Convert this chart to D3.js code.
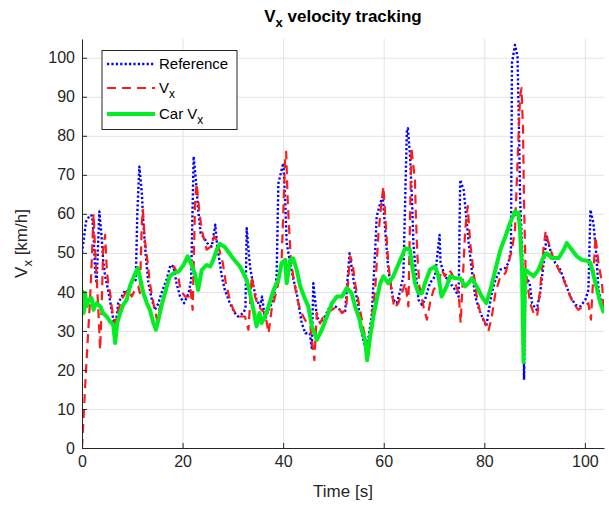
<!DOCTYPE html>
<html>
<head>
<meta charset="utf-8">
<script src="https://cdn.jsdelivr.net/npm/d3@7"></script>
<style>
  body { margin: 0; background: #fff; }
  text { font-family: "Liberation Sans", Arial, Helvetica, sans-serif; }
</style>
</head>
<body>
<div id="vis"></div>
<script>
// Vx velocity tracking

const X_TICKS = [0, 20, 40, 60, 80, 100];
const Y_TICKS = [0, 10, 20, 30, 40, 50, 60, 70, 80, 90, 100];

// Reference (blue dotted)
const refT = [0, 0.3, 0.8, 1.6, 2.0, 2.3, 2.6, 2.9, 3.45, 3.9, 4.2, 4.6, 5.2, 5.8, 6.6, 7.2, 7.9, 8.6, 9.2, 9.9,
  10.7, 11.0, 11.4, 11.9, 12.2, 12.7, 13.2, 13.9, 14.5, 15.2, 15.8, 16.8, 17.6, 18.2, 18.8, 19.5, 20.3, 21.2, 21.7, 22.2,
  22.7, 23.1, 23.6, 24.3, 24.9, 25.8, 26.5, 26.9, 27.8, 28.4, 29.4, 30.4, 31.0, 32.1, 32.5, 32.75, 33.4, 34.1, 34.7, 35.4,
  35.8, 36.4, 37.1, 38.1, 38.7, 39.05, 39.7, 40.05, 40.4, 40.7, 41.4, 41.9, 42.7, 43.7, 44.4, 45.3, 45.7, 46.0, 46.7, 47.4,
  48.3, 49.3, 50.3, 51.3, 52.3, 53.2, 53.6, 54.3, 55.0, 55.6, 56.3, 57.0, 57.6, 58.3, 58.6, 59.3, 59.8, 60.3, 60.9, 61.9,
  62.6, 63.3, 63.9, 64.6, 64.8, 65.2, 65.6, 65.9, 66.4, 66.9, 67.6, 68.2, 69.2, 70.2, 71.1, 71.3, 72.2, 73.2, 74.2, 74.9,
  75.2, 75.9, 76.4, 76.9, 77.5, 78.2, 79.0, 79.8, 80.4, 80.8, 81.5, 82.2, 83.2, 84.1, 84.8, 85.3, 85.5, 86.1, 86.6, 86.9,
  87.1, 87.5, 87.7, 87.9, 88.2, 89.0, 89.5, 89.9, 90.4, 91.1, 91.8, 92.4, 93.1, 94.1, 95.1, 96.1, 97.1, 98.1, 99.1, 100.1,
  100.7, 101.1, 101.7, 102.3, 102.7, 103.4, 103.8];
const refV = [50, 53, 58, 59.7, 59.5, 55, 45.6, 42.2, 60.6, 54.2, 48.2, 44, 40.5, 36, 30.3, 37.1, 38.8, 40.5, 39.7, 42.3,
  43.1, 60, 72.1, 65.3, 57.6, 49.1, 42.2, 38, 35.4, 37.1, 39.7, 43.1, 46.9, 46.5, 42.2, 38.8, 37.1, 39.7, 43.1, 74.7,
  67.8, 61, 55, 53.8, 52.5, 51.6, 57.2, 51.6, 44, 40.5, 37.1, 34.6, 33.7, 34.6, 35.8, 56.3, 46.5, 41.4, 38, 36.3,
  38.8, 32.9, 35.4, 38, 44, 67.8, 71.3, 73, 63.6, 52.5, 47.4, 44, 39.7, 32, 29.4, 29.4, 25.6, 42.2, 33.7, 32,
  33.7, 36.3, 36.3, 35.4, 34.6, 49.9, 46.5, 40.5, 36.3, 29.4, 26, 28.6, 33.7, 50.8, 59.3, 62.7, 64.4, 55.9, 45.7, 38,
  37.1, 40.5, 44, 81.5, 81.9, 75.5, 64.4, 52.5, 44.8, 38, 36.7, 38, 42.3, 44, 54.6, 47.4, 44, 42.3, 40.5, 38.8,
  68.7, 66.1, 59.3, 52.5, 45.7, 38.8, 35.4, 32.9, 31.2, 34.6, 39.7, 43.1, 45.7, 46.1, 47.4, 50.8, 98.6, 103.3, 100.3, 81.5,
  64.4, 51.6, 40.5, 17.5, 44, 42.3, 37.1, 36.3, 35.4, 39.7, 47.4, 54.2, 50.8, 47.4, 45.7, 42.3, 38.8, 36.7, 36.3, 38,
  40.5, 61, 57.6, 49.1, 40.5, 37.1, 35.4];

// Vx (red dashed)
const vxT = [0, 0.4, 0.8, 1.2, 1.6, 2.0, 2.3, 2.6, 2.9, 3.25, 3.6, 3.9, 4.2, 4.6, 4.9, 5.2, 5.6, 5.9, 6.2, 6.6,
  7.2, 7.9, 8.6, 9.2, 9.9, 10.5, 11.2, 11.5, 11.9, 12.1, 12.5, 13.0, 13.5, 14.2, 14.9, 15.5, 16.2, 16.8, 17.5, 18.3,
  19.0, 19.6, 20.5, 21.2, 21.6, 22.0, 22.5, 22.8, 23.3, 23.8, 24.3, 24.8, 25.6, 26.3, 26.8, 27.3, 28.0, 28.6, 29.4, 30.1,
  30.8, 31.4, 32.4, 33.1, 33.75, 34.4, 35.1, 35.7, 36.4, 37.1, 37.7, 38.4, 39.05, 39.7, 40.4, 40.6, 40.9, 41.2, 41.5, 42.0,
  42.7, 43.4, 44.0, 44.7, 45.4, 46.2, 46.7, 47.35, 48.0, 48.7, 49.7, 50.7, 51.7, 52.5, 53.3, 53.8, 54.3, 54.8, 55.3, 56.0,
  56.6, 57.3, 57.8, 58.3, 58.95, 59.6, 59.95, 60.3, 60.9, 61.6, 62.1, 62.9, 63.6, 64.3, 64.9, 65.5, 66.2, 66.4, 66.7, 67.1,
  67.9, 68.6, 69.2, 69.9, 70.9, 71.5, 72.2, 72.9, 73.5, 74.2, 74.9, 75.3, 76.2, 76.7, 77.2, 77.8, 78.5, 79.2, 80.2, 80.8,
  81.5, 82.2, 83.2, 84.2, 84.8, 85.5, 86.1, 87.1, 87.4, 87.7, 87.9, 88.2, 89.1, 89.8, 90.5, 91.1, 91.8, 92.2, 92.8, 93.8,
  94.8, 95.8, 96.8, 97.7, 98.7, 99.7, 100.7, 101.2, 102.1, 102.7, 103.4, 103.8];
const vxV = [0, 10, 20, 29, 38, 50, 60, 50.8, 44, 35.4, 25.2, 35.4, 50.8, 54.6, 46.5, 42.2, 39.7, 36.3, 33.7, 32,
  35.4, 38, 39.7, 40.5, 38.8, 40.5, 41.4, 39.7, 57.6, 61, 53.3, 48.2, 42.2, 37.1, 32.9, 36.3, 38, 40.5, 43.9, 46.5,
  44.8, 40.5, 38.8, 38.8, 40.5, 35.4, 63.6, 67.8, 61, 55.9, 53.3, 50.8, 51.6, 54.2, 53.3, 50.8, 47.4, 42.2, 38, 35.4,
  34.1, 33.7, 33.7, 30.3, 44, 38.8, 36.3, 35.4, 34.6, 29.4, 35.4, 38.8, 42.2, 48.2, 74.7, 75.9, 63.6, 55.9, 49.1, 44,
  38.8, 35.4, 33.7, 32, 31.2, 22.5, 34.6, 32, 33.7, 34.6, 35.4, 36.3, 34.6, 35.4, 49.1, 47.4, 42.2, 38.8, 35.4, 30.3,
  26.9, 28, 35.4, 40.5, 55, 63.6, 67, 59.3, 47.4, 39.7, 35.9, 37.1, 39.7, 42.3, 36.3, 77, 68.7, 59.3, 49.1, 41.4,
  36.3, 32.9, 37.1, 40.5, 42.3, 45.7, 44, 45.7, 44.8, 42.3, 39.7, 32, 55.9, 62, 52.5, 45.7, 38.8, 34.6, 32, 29.9,
  33.7, 39.7, 44, 44.8, 47.4, 50.8, 55.9, 90, 92.2, 81.5, 62.7, 45.7, 37.1, 34.6, 33.7, 40.5, 51.6, 55.5, 52.5, 48.3,
  45.7, 43.1, 39.7, 37.1, 35.4, 36.3, 37.1, 32.9, 54.2, 47.4, 42.3, 35];

// Car Vx (green solid)
const carT = [0, 0.2, 0.35, 0.6, 0.9, 1.3, 1.9, 2.3, 2.6, 2.9, 3.6, 4.2, 4.9, 5.6, 6.2, 6.6, 7.0, 7.6, 8.2, 8.9,
  9.5, 10.3, 11.1, 11.5, 12.2, 12.9, 13.5, 14.2, 14.7, 15.2, 15.8, 16.5, 17.4, 18.2, 19.2, 20.2, 21.0, 21.8, 22.5, 23.1,
  23.8, 24.8, 25.5, 26.1, 26.8, 27.4, 28.4, 29.3, 30.1, 31.4, 32.75, 33.4, 34.1, 34.7, 35.3, 35.7, 36.4, 37.1, 38.1, 39.05,
  39.7, 40.4, 40.7, 41.4, 42.0, 42.7, 43.4, 44.4, 45.0, 45.7, 46.7, 47.7, 48.7, 49.7, 50.7, 51.7, 52.65, 53.6, 54.3, 55.2,
  55.6, 56.3, 56.7, 57.3, 57.95, 58.6, 59.3, 59.95, 60.9, 61.9, 63.3, 64.3, 65.2, 65.5, 65.9, 66.2, 66.9, 67.6, 68.2, 69.2,
  70.2, 70.9, 71.5, 72.5, 73.2, 74.2, 75.2, 76.2, 76.9, 77.5, 78.5, 79.5, 80.4, 81.2, 82.2, 83.2, 84.2, 85.1, 86.1, 86.8,
  87.1, 87.5, 87.8, 88.1, 88.8, 89.8, 90.8, 91.8, 92.4, 93.4, 94.8, 95.8, 96.4, 97.4, 98.4, 99.4, 100.4, 101.1, 102.1, 103.1,
  103.8];
const carV = [40.5, 36, 34.6, 39.7, 36.3, 38, 38.4, 35.4, 36.5, 37.1, 36.3, 34.6, 33.7, 32.4, 31.6, 26.9, 32, 34.6, 36.7, 38,
  41.4, 43.9, 46.1, 43.9, 39.7, 37.1, 35.4, 32, 30.3, 32.9, 36.3, 39.7, 43.9, 44.8, 45.2, 46.9, 49.1, 46.9, 44.4, 40.5,
  45.6, 46.9, 46.5, 48.2, 50.8, 52.3, 51.5, 49.9, 48.5, 46.5, 43.1, 39.7, 35.4, 31.2, 34.6, 32, 33.7, 36.3, 40.5, 43.1,
  47.4, 48.2, 42.2, 48.2, 48.6, 45.6, 41.4, 38, 36.3, 31.2, 27.7, 30.3, 33.7, 37.1, 38.8, 38.8, 41, 39.7, 36.3, 32.9,
  30.3, 27.7, 22.5, 28.6, 33.7, 38, 42.2, 44, 42.2, 44, 48.2, 51.2, 50.8, 48, 44.8, 42.3, 39.7, 39.7, 42.3, 45.7,
  46.5, 44, 38.8, 41.4, 44, 43.5, 43.5, 41.4, 42.3, 43.5, 41.4, 38.8, 37.1, 40.5, 45.7, 50.8, 54.2, 57.6, 60.6, 60.2,
  55.9, 45.7, 22, 45.7, 45, 44, 45.7, 49.1, 49.9, 48.7, 48.7, 50.8, 52.5, 50.8, 49.1, 48.2, 48, 47.4, 42.3, 37.1,
  34.6];

const WIDTH = 609, HEIGHT = 506;
const MARGINS = {left: 82, right: 5, top: 39, bottom: 58};
const AXIS_COLOR = "#262626";

const svg = d3.select("#vis").append("svg")
  .attr("width", WIDTH)
  .attr("height", HEIGHT);

const xScale = d3.scaleLinear()
  .domain([0, 103.8])
  .range([MARGINS.left, WIDTH - MARGINS.right]);
const yScale = d3.scaleLinear()
  .domain([0, 104.8])
  .range([HEIGHT - MARGINS.bottom, MARGINS.top]);

// grid
svg.append("g")
  .attr("transform", `translate(0, ${HEIGHT - MARGINS.bottom})`)
  .call(d3.axisBottom(xScale).tickValues(X_TICKS).tickSize(-(HEIGHT - MARGINS.bottom - MARGINS.top)).tickFormat(""))
  .call(g => g.select(".domain").remove())
  .call(g => g.selectAll("line").attr("stroke", "#e3e3e3"));
svg.append("g")
  .attr("transform", `translate(${MARGINS.left}, 0)`)
  .call(d3.axisLeft(yScale).tickValues(Y_TICKS).tickSize(-(WIDTH - MARGINS.right - MARGINS.left)).tickFormat(""))
  .call(g => g.select(".domain").remove())
  .call(g => g.selectAll("line").attr("stroke", "#e3e3e3"));

// lines
const series = [
  {t: refT, v: refV, color: "#0000ff", width: 2.4, dash: "2.2,2.2"},
  {t: vxT, v: vxV, color: "#ff1a1a", width: 2.2, dash: "9,6"},
  {t: carT, v: carV, color: "#00ee22", width: 4, dash: null}
];
const line = d3.line()
  .x(d => xScale(d[0]))
  .y(d => yScale(d[1]));

svg.append("defs").append("clipPath").attr("id", "clip")
  .append("rect")
  .attr("x", MARGINS.left).attr("y", MARGINS.top)
  .attr("width", WIDTH - MARGINS.left - MARGINS.right)
  .attr("height", HEIGHT - MARGINS.top - MARGINS.bottom);

series.forEach(s => {
  svg.append("path")
    .datum(s.t.map((t, i) => [t, s.v[i]]))
    .attr("clip-path", "url(#clip)")
    .attr("fill", "none")
    .attr("stroke", s.color)
    .attr("stroke-width", s.width)
    .attr("stroke-linejoin", "round")
    .attr("stroke-dasharray", s.dash)
    .attr("d", line);
});

// axes (ticks point inward)
svg.append("g")
  .attr("transform", `translate(0, ${HEIGHT - MARGINS.bottom})`)
  .call(d3.axisBottom(xScale).tickValues(X_TICKS).tickSizeInner(-5).tickSizeOuter(0).tickPadding(8))
  .call(g => g.select(".domain").attr("stroke", AXIS_COLOR))
  .call(g => g.selectAll("line").attr("stroke", AXIS_COLOR))
  .call(g => g.selectAll("text").attr("fill", AXIS_COLOR).attr("font-size", 16));
svg.append("g")
  .attr("transform", `translate(${MARGINS.left}, 0)`)
  .call(d3.axisLeft(yScale).tickValues(Y_TICKS).tickSizeInner(-5).tickSizeOuter(0).tickPadding(7))
  .call(g => g.select(".domain").attr("stroke", AXIS_COLOR))
  .call(g => g.selectAll("line").attr("stroke", AXIS_COLOR))
  .call(g => g.selectAll("text").attr("fill", AXIS_COLOR).attr("font-size", 16));

// title
const title = svg.append("text")
  .attr("x", (MARGINS.left + WIDTH - MARGINS.right) / 2)
  .attr("y", 22)
  .attr("text-anchor", "middle")
  .attr("font-size", 17)
  .attr("font-weight", "bold")
  .attr("fill", "#000");
title.append("tspan").text("V");
title.append("tspan").attr("dy", 5).attr("font-size", 13).text("x");
title.append("tspan").attr("dy", -5).text(" velocity tracking");

// axis labels
svg.append("text")
  .attr("x", (MARGINS.left + WIDTH - MARGINS.right) / 2)
  .attr("y", 497)
  .attr("text-anchor", "middle")
  .attr("font-size", 17)
  .attr("fill", AXIS_COLOR)
  .text("Time [s]");

const yLab = svg.append("text")
  .attr("transform", `translate(27, ${(MARGINS.top + HEIGHT - MARGINS.bottom) / 2}) rotate(-90)`)
  .attr("text-anchor", "middle")
  .attr("font-size", 17)
  .attr("fill", AXIS_COLOR);
yLab.append("tspan").text("V");
yLab.append("tspan").attr("dy", 5).attr("font-size", 13).text("x");
yLab.append("tspan").attr("dy", -5).text(" [km/h]");

// legend
const legend = svg.append("g");
legend.append("rect")
  .attr("x", 102).attr("y", 50.5)
  .attr("width", 135).attr("height", 79)
  .attr("fill", "#fff")
  .attr("stroke", "#262626")
  .attr("stroke-width", 1);
const legendRows = [
  {label: "Reference", sub: null, y: 64},
  {label: "V", sub: "x", y: 88},
  {label: "Car V", sub: "x", y: 114}
];
legendRows.forEach((r, i) => {
  const s = series[i];
  legend.append("line")
    .attr("x1", 107).attr("x2", 155)
    .attr("y1", r.y).attr("y2", r.y)
    .attr("stroke", s.color)
    .attr("stroke-width", s.width)
    .attr("stroke-dasharray", s.dash);
  const tx = legend.append("text")
    .attr("x", 159).attr("y", r.y + 5)
    .attr("font-size", 15)
    .attr("fill", "#000");
  tx.append("tspan").text(r.label);
  if (r.sub) tx.append("tspan").attr("dy", 5).attr("font-size", 12).text(r.sub);
});
</script>
</body>
</html>
